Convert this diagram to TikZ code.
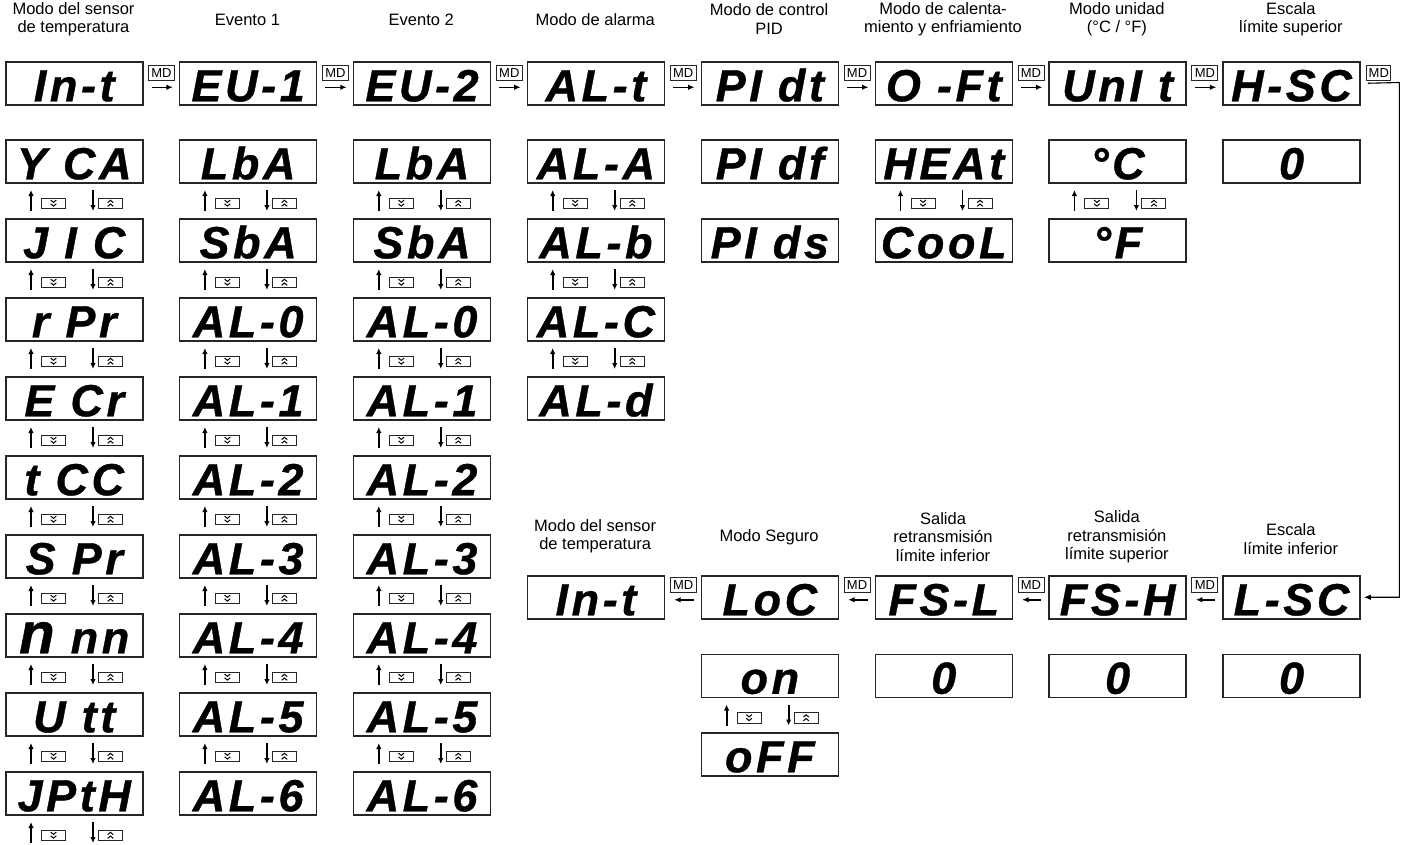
\documentclass[tikz,border=0pt]{standalone}
\usepackage{fontspec}
\setmainfont{Liberation Sans}
\newfontfamily\dispfont{Liberation Sans Bold Italic}[LetterSpace=8, FakeBold=0.8]
\usetikzlibrary{arrows.meta,calc}
\tikzset{
  dbox/.style={draw=black!85, line width=1.5pt, minimum width=137pt, minimum height=43pt,
    inner sep=0pt, anchor=north west, text height=36pt, text depth=0pt,
    font=\dispfont\fontsize{45}{45}\selectfont},
  lab/.style={align=center, inner sep=0pt, font=\fontsize{16.5}{18.5}\selectfont},
  mdbox/.style={draw=black!85, line width=1pt, minimum width=26pt, minimum height=15pt,
    inner sep=0pt, font=\fontsize{13}{13}\selectfont},
  mdarrow/.style={line width=1.5pt, -{Latex[length=6.5pt,width=5.5pt]}},
  sarrow/.style={line width=1.8pt, -{Latex[length=6pt,width=5.5pt]}},
  kbox/.style={draw=black!85, line width=1pt, minimum width=24pt, minimum height=10.5pt, inner sep=0pt},
  chev/.style={line width=1pt},
  loopline/.style={line width=1.1pt, -{Latex[length=7pt,width=5.5pt]}}
}
\newcommand\DB[4]{\node[dbox] (#1) at (#2,#3) {#4};}
\newcommand\SEL[3]{%
  \node[kbox] (#1d) at ({#2+48.5},{#3+64.5}) {};
  \node[kbox] (#1u) at ({#2+105.5},{#3+64.5}) {};
  \draw[sarrow] ({#2+26},{#3+72}) -- ({#2+26},{#3+51});
  \draw[sarrow] ({#2+88},{#3+51}) -- ({#2+88},{#3+72});
  \draw[chev] ([shift={(-2.8,-3.4)}]#1d.center) -- ++(2.8,2.3) -- ++(2.8,-2.3);
  \draw[chev] ([shift={(-2.8,0.3)}]#1d.center) -- ++(2.8,2.3) -- ++(2.8,-2.3);
  \draw[chev] ([shift={(-2.8,-0.9)}]#1u.center) -- ++(2.8,-2.3) -- ++(2.8,2.3);
  \draw[chev] ([shift={(-2.8,2.8)}]#1u.center) -- ++(2.8,-2.3) -- ++(2.8,2.3);
}
% top-row MD connector between boxes #1 and #2
\newcommand\MDR[3]{%
  \node[mdbox] (#3) at ($(#1.east)+(18,-10)$) {MD};
  \draw[mdarrow] ($(#1.east)+(8,4)$) -- ($(#2.west)+(-6,4)$);
}
% bottom-row MD connector, arrow pointing left from #2 to #1
\newcommand\MDL[3]{%
  \node[mdbox] (#3) at ($(#1.east)+(18,-12.5)$) {MD};
  \draw[mdarrow] ($(#2.west)+(-7,2.5)$) -- ($(#1.east)+(9,2.5)$);
}
\begin{document}
\begin{tikzpicture}[x=1pt,y=-1pt]
\path[use as bounding box, fill=white] (0,0) rectangle (1401,844);

% ---- top labels
\node[lab] (L1) at (73.5,19) {Modo del sensor\\de temperatura};
\node[lab] (L2) at (247.4,20) {Evento 1};
\node[lab] (L3) at (421.3,20) {Evento 2};
\node[lab] (L4) at (595.2,20) {Modo de alarma};
\node[lab] (L5) at (769.1,19) {Modo de control\\PID};
\node[lab] (L6) at (943,19) {Modo de calenta-\\miento y enfriamiento};
\node[lab] (L7) at (1116.9,19) {Modo unidad\\(°C / °F)};
\node[lab] (L8) at (1290.8,19) {Escala\\límite superior};

% ---- top row
\DB{t1}{5}{61}{In-t}
\DB{t2}{178.9}{61}{EU-1}
\DB{t3}{352.8}{61}{EU-2}
\DB{t4}{526.7}{61}{AL-t}
\DB{t5}{700.6}{61}{PI dt}
\DB{t6}{874.5}{61}{O -Ft}
\DB{t7}{1048.4}{61}{UnI t}
\DB{t8}{1222.3}{61}{H-SC}
\MDR{t1}{t2}{m1}
\MDR{t2}{t3}{m2}
\MDR{t3}{t4}{m3}
\MDR{t4}{t5}{m4}
\MDR{t5}{t6}{m5}
\MDR{t6}{t7}{m6}
\MDR{t7}{t8}{m7}
\node[mdbox, minimum width=24pt] (m8) at ($(t8.east)+(18,-10)$) {MD};

% ---- column 1
\DB{a1}{5}{139}{Y CA}   \SEL{sa1}{5}{139}
\DB{a2}{5}{218}{J I C}  \SEL{sa2}{5}{218}
\DB{a3}{5}{297}{r Pr}   \SEL{sa3}{5}{297}
\DB{a4}{5}{376}{E Cr}   \SEL{sa4}{5}{376}
\DB{a5}{5}{455}{t CC}   \SEL{sa5}{5}{455}
\DB{a6}{5}{534}{S Pr}   \SEL{sa6}{5}{534}
\DB{a7}{5}{613}{{\fontsize{58}{58}\selectfont n} nn} \SEL{sa7}{5}{613}
\DB{a8}{5}{692}{U tt}   \SEL{sa8}{5}{692}
\DB{a9}{5}{771}{JPtH}   \SEL{sa9}{5}{771}

% ---- column 2
\DB{b1}{178.9}{139}{LbA}  \SEL{sb1}{178.9}{139}
\DB{b2}{178.9}{218}{SbA}  \SEL{sb2}{178.9}{218}
\DB{b3}{178.9}{297}{AL-0} \SEL{sb3}{178.9}{297}
\DB{b4}{178.9}{376}{AL-1} \SEL{sb4}{178.9}{376}
\DB{b5}{178.9}{455}{AL-2} \SEL{sb5}{178.9}{455}
\DB{b6}{178.9}{534}{AL-3} \SEL{sb6}{178.9}{534}
\DB{b7}{178.9}{613}{AL-4} \SEL{sb7}{178.9}{613}
\DB{b8}{178.9}{692}{AL-5} \SEL{sb8}{178.9}{692}
\DB{b9}{178.9}{771}{AL-6}

% ---- column 3
\DB{c1}{352.8}{139}{LbA}  \SEL{sc1}{352.8}{139}
\DB{c2}{352.8}{218}{SbA}  \SEL{sc2}{352.8}{218}
\DB{c3}{352.8}{297}{AL-0} \SEL{sc3}{352.8}{297}
\DB{c4}{352.8}{376}{AL-1} \SEL{sc4}{352.8}{376}
\DB{c5}{352.8}{455}{AL-2} \SEL{sc5}{352.8}{455}
\DB{c6}{352.8}{534}{AL-3} \SEL{sc6}{352.8}{534}
\DB{c7}{352.8}{613}{AL-4} \SEL{sc7}{352.8}{613}
\DB{c8}{352.8}{692}{AL-5} \SEL{sc8}{352.8}{692}
\DB{c9}{352.8}{771}{AL-6}

% ---- column 4
\DB{d1}{526.7}{139}{AL-A} \SEL{sd1}{526.7}{139}
\DB{d2}{526.7}{218}{AL-b} \SEL{sd2}{526.7}{218}
\DB{d3}{526.7}{297}{AL-C} \SEL{sd3}{526.7}{297}
\DB{d4}{526.7}{376}{AL-d}

% ---- column 5
\DB{e1}{700.6}{139}{PI df}
\DB{e2}{700.6}{218}{PI ds}

% ---- column 6
\DB{f1}{874.5}{139}{HEAt} \SEL{sf1}{874.5}{139}
\DB{f2}{874.5}{218}{CooL}

% ---- column 7
\DB{g1}{1048.4}{139}{°C} \SEL{sg1}{1048.4}{139}
\DB{g2}{1048.4}{218}{°F}

% ---- column 8
\DB{h1}{1222.3}{139}{0}

% ---- bottom labels
\node[lab] (BL4) at (595.2,536) {Modo del sensor\\de temperatura};
\node[lab] (BL5) at (769.1,537) {Modo Seguro};
\node[lab] (BL6) at (943,537) {Salida\\retransmisión\\límite inferior};
\node[lab] (BL7) at (1116.9,537) {Salida\\retransmisión\\límite superior};
\node[lab] (BL8) at (1290.8,539) {Escala\\límite inferior};

% ---- bottom row
\DB{p4}{526.7}{575}{In-t}
\DB{p5}{700.6}{575}{LoC}
\DB{p6}{874.5}{575}{FS-L}
\DB{p7}{1048.4}{575}{FS-H}
\DB{p8}{1222.3}{575}{L-SC}
\MDL{p4}{p5}{n4}
\MDL{p5}{p6}{n5}
\MDL{p6}{p7}{n6}
\MDL{p7}{p8}{n7}

\DB{q5}{700.6}{653.5}{on} \SEL{sq5}{700.6}{653.5}
\DB{r5}{700.6}{732}{oFF}
\DB{q6}{874.5}{653.5}{0}
\DB{q7}{1048.4}{653.5}{0}
\DB{q8}{1222.3}{653.5}{0}

% ---- loop connector from H-SC to L-SC
\coordinate (corner) at (1399.3,82.5);
\draw[loopline] ($(t8.east)+(7,0)$) -- (corner) |- ($(p8.east)+(3,0)$);
\end{tikzpicture}
\end{document}
